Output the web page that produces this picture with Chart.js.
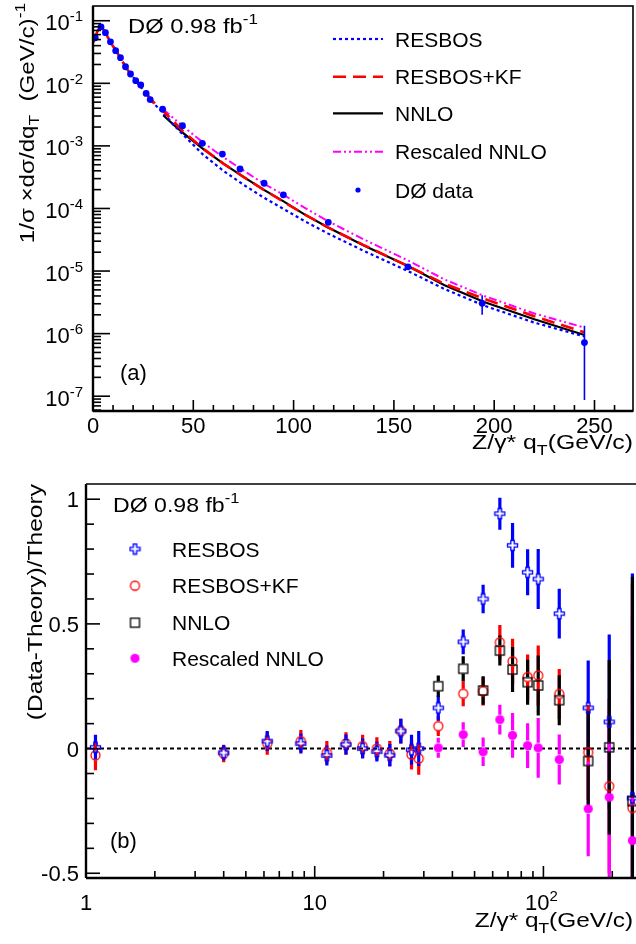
<!DOCTYPE html>
<html>
<head>
<meta charset="utf-8">
<script src="https://cdn.jsdelivr.net/npm/chart.js@4.4.1/dist/chart.umd.min.js"></script>
<style>
body { margin: 0; background: #fff; width: 636px; height: 944px; overflow: hidden; position: relative; }
canvas { position: absolute; left: 0; }
#top { top: 0; }
#bottom { top: 470px; }
</style>
</head>
<body>
<canvas id="top" width="636" height="470" style="width:636px;height:470px"></canvas>
<canvas id="bottom" width="636" height="474" style="width:636px;height:474px"></canvas>
<script>
// Z/gamma* qT, D0 0.98 fb-1

// bin centres (GeV/c), shared by both panels
const qT = [1.1, 4.0, 6.2, 8.7, 11.3, 13.7, 16.2, 18.7, 21.3, 23.8, 26.5, 28.5, 34.7, 44.6, 54.5, 64.5, 73.3, 85.3, 94.9, 117.3, 157, 194, 245];

// (a) normalised cross section
const dataXsec = [0.0535, 0.080, 0.0645, 0.046, 0.0332, 0.0257, 0.0184, 0.0141, 0.0110, 0.0094, 0.0069, 0.0055, 0.00385, 0.0021, 0.0011, 7.4e-4, 4.27e-4, 2.53e-4, 1.65e-4, 6.0e-5, 1.17e-5, 3.05e-6, 7.2e-7];
const dataLo = [null, null, null, null, null, null, null, null, null, null, null, null, null, null, null, null, null, null, null, null, 1.05e-5, 2.0e-6, 8.7e-8];
const dataHi = [null, null, null, null, null, null, null, null, null, null, null, null, null, null, null, null, null, null, null, null, 1.3e-5, 4.1e-6, 1.33e-6];

const curveQT = [0, 1.1, 2.6, 4.0, 6.2, 8.7, 11.3, 13.7, 16.2, 18.7, 21.3, 23.8, 26.5, 28.5, 31, 35, 40, 45, 55, 65, 75, 85, 95, 105, 117, 135, 157, 175, 195, 220, 245];
const resbosCurve = [0.045, 0.054, 0.072, 0.081, 0.064, 0.046, 0.034, 0.0255, 0.0186, 0.0142, 0.0111, 0.0089, 0.0069, 0.0056, 0.0045, 0.0034, 0.0022, 0.0015, 7.2e-4, 4.0e-4, 2.4e-4, 1.5e-4, 9.8e-5, 6.4e-5, 4.0e-5, 2.1e-5, 1.0e-5, 5.2e-6, 2.8e-6, 1.5e-6, 9.0e-7];
const resbosKFCurve = [0.045, 0.055, 0.073, 0.082, 0.065, 0.045, 0.034, 0.0252, 0.0183, 0.0141, 0.0112, 0.0088, 0.0071, 0.0057, 0.0047, 0.0036, 0.0025, 0.0017, 9.0e-4, 5.2e-4, 3.2e-4, 2.0e-4, 1.28e-4, 8.2e-5, 5.0e-5, 2.6e-5, 1.2e-5, 6.3e-6, 3.6e-6, 1.9e-6, 1.05e-6];
const nnloQT = [35, 40, 45, 55, 65, 75, 85, 95, 105, 117, 135, 157, 175, 195, 220, 245];
const nnloCurve = [3.1e-3, 2.2e-3, 1.6e-3, 8.9e-4, 5.2e-4, 3.2e-4, 2.0e-4, 1.3e-4, 8.2e-5, 5.0e-5, 2.55e-5, 1.2e-5, 6.0e-6, 3.2e-6, 1.7e-6, 9.5e-7];
const rescaledCurve = [3.85e-3, 2.8e-3, 2.05e-3, 1.12e-3, 6.6e-4, 4.05e-4, 2.5e-4, 1.65e-4, 1.05e-4, 6.3e-5, 3.2e-5, 1.48e-5, 7.4e-6, 4.0e-6, 2.1e-6, 1.25e-6];

// (b) (Data-Theory)/Theory
const ratioResbos = [0.005, -0.017, 0.03, 0.02, -0.028, 0.016, 0.0, -0.012, -0.027, 0.07, -0.005, 0.0, 0.163, 0.428, 0.60, 0.942, 0.815, 0.707, 0.68, 0.541, 0.163, 0.107, -0.198];
const errResbos = [0.05, 0.03, 0.04, 0.04, 0.04, 0.04, 0.04, 0.04, 0.045, 0.05, 0.06, 0.07, 0.05, 0.05, 0.057, 0.064, 0.09, 0.092, 0.12, 0.1, 0.19, 0.35, 0.9];
const ratioKF = [-0.027, -0.02, 0.02, 0.03, -0.015, 0.02, 0.01, 0.0, -0.02, 0.07, -0.024, -0.04, 0.09, 0.22, 0.23, 0.426, 0.35, 0.287, 0.293, 0.219, -0.015, -0.151, -0.238];
const errKF = [0.06, 0.035, 0.045, 0.045, 0.045, 0.045, 0.045, 0.045, 0.05, 0.05, 0.06, 0.065, 0.04, 0.05, 0.057, 0.07, 0.09, 0.09, 0.12, 0.1, 0.19, 0.35, 0.9];
const ratioNNLO = [null, null, null, null, null, null, null, null, null, null, null, null, 0.25, 0.32, 0.233, 0.393, 0.317, 0.266, 0.253, 0.194, -0.05, 0.005, -0.211];
const errNNLO = [null, null, null, null, null, null, null, null, null, null, null, null, 0.043, 0.05, 0.057, 0.06, 0.09, 0.09, 0.12, 0.1, 0.2, 0.35, 0.9];
const ratioRescaled = [null, null, null, null, null, null, null, null, null, null, null, null, 0.003, 0.056, -0.013, 0.116, 0.053, 0.012, 0.003, -0.044, -0.242, -0.195, -0.369];
const errRescaled = [null, null, null, null, null, null, null, null, null, null, null, null, 0.04, 0.05, 0.057, 0.06, 0.09, 0.09, 0.12, 0.1, 0.19, 0.35, 0.9];

// tick labels
const topXTicks = [0, 50, 100, 150, 200, 250];
const topYExps = [-7, -6, -5, -4, -3, -2, -1];
const bottomXTicks = [1, 10, 100];
const bottomYTicks = [1, 0.5, 0, -0.5];
const legendTop = ['RESBOS', 'RESBOS+KF', 'NNLO', 'Rescaled NNLO', 'D\u00d8 data'];
const legendBottom = ['RESBOS', 'RESBOS+KF', 'NNLO', 'Rescaled NNLO'];

const FONT = '"Liberation Sans", Arial, Helvetica, sans-serif';
const BLUE = '#0000ff', RED = '#ff0000', MAGENTA = '#ff00ff';
const DASH_RESBOS = [3, 3], DASH_KF = [13, 7], DASH_RESC = [8, 3, 2, 3, 2, 3];

function setFont(ctx, s) { ctx.font = s + 'px ' + FONT; }

// parts: [text, size, dy]; stretch widens the run along the baseline
function richText(ctx, parts, x, y, align, stretch) {
    stretch = stretch || 1;
    let w = 0;
    parts.forEach(p => { setFont(ctx, p[1]); w += ctx.measureText(p[0]).width; });
    const start = align === 'right' ? x - w * stretch : align === 'center' ? x - w * stretch / 2 : x;
    ctx.save();
    ctx.translate(start, y);
    ctx.scale(stretch, 1);
    let cx = 0;
    parts.forEach(p => {
        setFont(ctx, p[1]);
        ctx.fillText(p[0], cx, p[2] || 0);
        cx += ctx.measureText(p[0]).width;
    });
    ctx.restore();
}

function vText(ctx, parts, x, yTop, stretch) {
    ctx.save();
    ctx.translate(x, yTop);
    ctx.rotate(-Math.PI / 2);
    richText(ctx, parts, 0, 0, 'right', stretch);
    ctx.restore();
}

function seg(ctx, x1, y1, x2, y2) {
    ctx.beginPath(); ctx.moveTo(x1, y1); ctx.lineTo(x2, y2); ctx.stroke();
}

function pts(xs, ys) { return xs.map((x, i) => ({ x: x, y: ys[i] })); }

// vertical error bars as broken line segments, with a gap for the marker
function errorBars(xs, ys, errs, gap) {
    const out = [];
    xs.forEach((x, i) => {
        const y = ys[i], e = errs[i];
        if (y == null || e == null || e <= gap) return;
        out.push({ x: x, y: y - e }, { x: x, y: y - gap }, { x: x, y: null });
        out.push({ x: x, y: y + gap }, { x: x, y: y + e }, { x: x, y: null });
    });
    return out;
}

function boundBars(xs, lo, hi) {
    const out = [];
    xs.forEach((x, i) => {
        if (lo[i] == null) return;
        out.push({ x: x, y: lo[i] }, { x: x, y: hi[i] }, { x: x, y: null });
    });
    return out;
}

// ROOT-like markers
function marker(kind) {
    const c = document.createElement('canvas');
    c.width = 13; c.height = 13;
    const g = c.getContext('2d');
    g.translate(6.5, 6.5);
    g.lineWidth = 1.3;
    if (kind === 'cross') {
        const s = 5, w = 1.7;
        g.strokeStyle = BLUE;
        g.beginPath();
        [[-w, -s], [w, -s], [w, -w], [s, -w], [s, w], [w, w], [w, s], [-w, s], [-w, w], [-s, w], [-s, -w], [-w, -w]]
            .forEach((p, i) => i ? g.lineTo(p[0], p[1]) : g.moveTo(p[0], p[1]));
        g.closePath(); g.stroke();
    } else if (kind === 'circle') {
        g.strokeStyle = RED;
        g.beginPath(); g.arc(0, 0, 4.5, 0, 2 * Math.PI); g.stroke();
    } else if (kind === 'square') {
        g.strokeStyle = '#000';
        g.strokeRect(-4.5, -4.5, 9, 9);
    } else {
        g.fillStyle = MAGENTA;
        g.beginPath(); g.arc(0, 0, 4.6, 0, 2 * Math.PI); g.fill();
    }
    return c;
}
const mkCross = marker('cross'), mkCircle = marker('circle'), mkSquare = marker('square'), mkDot = marker('dot');

// ---------- (a) ----------
const topAxes = {
    id: 'topAxes',
    afterDraw(chart) {
        const ctx = chart.ctx, a = chart.chartArea, sx = chart.scales.x, sy = chart.scales.y;
        ctx.save();
        ctx.strokeStyle = '#000'; ctx.fillStyle = '#000';
        ctx.lineWidth = 1.6;
        ctx.strokeRect(a.left, a.top, a.right - a.left, a.bottom - a.top);
        ctx.lineWidth = 2.4;
        seg(ctx, a.left, a.top, a.left, a.bottom);
        seg(ctx, a.left, a.bottom, a.right, a.bottom);
        ctx.lineWidth = 1.6;
        for (let v = 0; v <= sx.max; v += 10) {
            const px = sx.getPixelForValue(v);
            seg(ctx, px, a.bottom, px, a.bottom - (v % 50 ? 6 : 11));
        }
        for (let d = -8; d <= 0; d++) {
            for (let m = 1; m < 10; m++) {
                const v = m * Math.pow(10, d);
                if (v < sy.min || v > sy.max) continue;
                const py = sy.getPixelForValue(v);
                seg(ctx, a.left, py, a.left + (m === 1 ? 17 : 8), py);
            }
        }
        ctx.textBaseline = 'alphabetic';
        topXTicks.forEach(v => richText(ctx, [[String(v), 22]], sx.getPixelForValue(v), 433, 'center'));
        topYExps.forEach(e => richText(ctx, [['10', 22], [String(e), 15, -9]], 83, sy.getPixelForValue(Math.pow(10, e)) + 9.5, 'right'));

        // titles and labels
        vText(ctx, [['1/\u03c3 \u00d7d\u03c3/dq', 21], ['T', 15, 5], ['  (GeV/c)', 21], ['-1', 15, -9]], 33.5, 3, 1.15);
        richText(ctx, [['Z/\u03b3* q', 21], ['T', 15, 6], ['(GeV/c)', 21]], 633, 449, 'right', 1.18);
        richText(ctx, [['D\u00d8 0.98 fb', 21], ['-1', 15, -9]], 128, 33, 'left', 1.13);
        richText(ctx, [['(a)', 22]], 120, 380, 'left');

        // legend
        const rows = [39, 76.7, 113.3, 151.7, 190];
        const styles = [[BLUE, DASH_RESBOS, 2.2], [RED, DASH_KF, 2.6], ['#000', [], 2.2], [MAGENTA, DASH_RESC, 2]];
        styles.forEach((s, i) => {
            ctx.strokeStyle = s[0]; ctx.lineWidth = s[2]; ctx.setLineDash(s[1]);
            seg(ctx, 333, rows[i], 383, rows[i]);
        });
        ctx.setLineDash([]);
        ctx.fillStyle = BLUE;
        ctx.beginPath(); ctx.arc(358, rows[4], 2.6, 0, 2 * Math.PI); ctx.fill();
        ctx.fillStyle = '#000';
        legendTop.forEach((t, i) => richText(ctx, [[t, 21]], 395, rows[i] + 7.5, 'left'));
        ctx.restore();
    }
};

new Chart(document.getElementById('top'), {
    type: 'line',
    data: {
        datasets: [
            { label: 'D\u00d8 data', data: pts(qT, dataXsec), showLine: false, pointStyle: 'circle', pointRadius: 3.4, pointBackgroundColor: BLUE, pointBorderWidth: 0, order: 0 },
            { label: 'data errors', data: boundBars(qT, dataLo, dataHi), borderColor: BLUE, borderWidth: 1.6, pointRadius: 0, order: 1 },
            { label: 'RESBOS+KF', data: pts(curveQT, resbosKFCurve), borderColor: RED, borderWidth: 2.6, borderDash: DASH_KF, pointRadius: 0, order: 2 },
            { label: 'RESBOS', data: pts(curveQT, resbosCurve), borderColor: BLUE, borderWidth: 2.2, borderDash: DASH_RESBOS, pointRadius: 0, order: 3 },
            { label: 'NNLO', data: pts(nnloQT, nnloCurve), borderColor: '#000', borderWidth: 2.2, pointRadius: 0, order: 4 },
            { label: 'Rescaled NNLO', data: pts(nnloQT, rescaledCurve), borderColor: MAGENTA, borderWidth: 2, borderDash: DASH_RESC, pointRadius: 0, order: 5 }
        ]
    },
    options: {
        responsive: false,
        animation: false,
        events: [],
        layout: { autoPadding: false, padding: { left: 93, top: 6, right: 3, bottom: 59 } },
        plugins: { legend: { display: false }, tooltip: { enabled: false } },
        scales: {
            x: { type: 'linear', min: 0, max: 269.2, display: false },
            y: { type: 'logarithmic', min: 5.8e-8, max: 0.172, display: false }
        }
    },
    plugins: [topAxes]
});

// ---------- (b) ----------
const bottomAxes = {
    id: 'bottomAxes',
    beforeDatasetsDraw(chart) {
        const ctx = chart.ctx, a = chart.chartArea, sy = chart.scales.y;
        const py = sy.getPixelForValue(0);
        ctx.save();
        ctx.strokeStyle = '#000'; ctx.lineWidth = 2; ctx.setLineDash([4, 3]);
        seg(ctx, a.left, py, a.right, py);
        ctx.restore();
    },
    afterDraw(chart) {
        const ctx = chart.ctx, a = chart.chartArea, sx = chart.scales.x, sy = chart.scales.y;
        ctx.save();
        ctx.strokeStyle = '#000'; ctx.fillStyle = '#000';
        ctx.lineWidth = 1.6;
        seg(ctx, a.left, a.top, a.right, a.top);
        ctx.lineWidth = 2.4;
        seg(ctx, a.left, a.top, a.left, a.bottom);
        seg(ctx, a.left, a.bottom, a.right, a.bottom);
        ctx.lineWidth = 1.6;
        for (let d = 0; d <= 2; d++) {
            for (let m = 1; m < 10; m++) {
                const v = m * Math.pow(10, d);
                if (v < sx.min || v > sx.max) continue;
                const px = sx.getPixelForValue(v);
                seg(ctx, px, a.bottom, px, a.bottom - (m === 1 ? 12 : 7));
            }
        }
        for (let k = -5; k <= 10; k++) {
            const py = sy.getPixelForValue(k / 10);
            seg(ctx, a.left, py, a.left + (k % 5 ? 8 : 14), py);
        }
        ctx.textBaseline = 'alphabetic';
        bottomXTicks.forEach(v => {
            const px = sx.getPixelForValue(v);
            if (v < 100) richText(ctx, [[String(v), 22]], px, 440, 'center');
            else richText(ctx, [['10', 22], ['2', 15, -9]], px - 2, 440, 'center');
        });
        bottomYTicks.forEach(v => richText(ctx, [[String(v), 22]], 79, sy.getPixelForValue(v) + 8, 'right'));

        vText(ctx, [['(Data-Theory)/Theory', 21]], 41.5, 14, 1.17);
        richText(ctx, [['Z/\u03b3* q', 21], ['T', 15, 6], ['(GeV/c)', 21]], 633, 457, 'right', 1.16);
        richText(ctx, [['D\u00d8 0.98 fb', 21], ['-1', 15, -9]], 113, 41.7, 'left', 1.1);
        richText(ctx, [['(b)', 22]], 110, 378, 'left');

        const rows = [79, 115.7, 152.7, 188.3];
        [mkCross, mkCircle, mkSquare, mkDot].forEach((m, i) => ctx.drawImage(m, 135 - m.width / 2, rows[i] - m.height / 2));
        legendBottom.forEach((t, i) => richText(ctx, [[t, 21]], 172, rows[i] + 7.5, 'left'));
        ctx.restore();
    }
};

const GAP = 0.02;
const barSet = (label, ys, es, color, order) => ({
    label: label, data: errorBars(qT, ys, es, GAP), borderColor: color, borderWidth: 3.2,
    borderCapStyle: 'butt', pointRadius: 0, order: order
});
const markSet = (label, ys, mk, order) => ({
    label: label, data: pts(qT, ys).filter(p => p.y != null), showLine: false,
    pointStyle: mk, pointRadius: 5, order: order
});

new Chart(document.getElementById('bottom'), {
    type: 'line',
    data: {
        datasets: [
            barSet('RESBOS+KF err', ratioKF, errKF, RED, 9),
            barSet('RESBOS err', ratioResbos, errResbos, BLUE, 8),
            barSet('Rescaled NNLO err', ratioRescaled, errRescaled, MAGENTA, 7),
            barSet('NNLO err', ratioNNLO, errNNLO, '#000', 6),
            markSet('RESBOS+KF', ratioKF, mkCircle, 4),
            markSet('RESBOS', ratioResbos, mkCross, 3),
            markSet('NNLO', ratioNNLO, mkSquare, 2),
            markSet('Rescaled NNLO', ratioRescaled, mkDot, 1)
        ]
    },
    options: {
        responsive: false,
        animation: false,
        events: [],
        layout: { autoPadding: false, padding: { left: 86, top: 14, right: 0, bottom: 66 } },
        plugins: { legend: { display: false }, tooltip: { enabled: false } },
        scales: {
            x: { type: 'logarithmic', min: 1, max: 254, display: false },
            y: { type: 'linear', min: -0.519, max: 1.061, display: false }
        }
    },
    plugins: [bottomAxes]
});
</script>
</body>
</html>
